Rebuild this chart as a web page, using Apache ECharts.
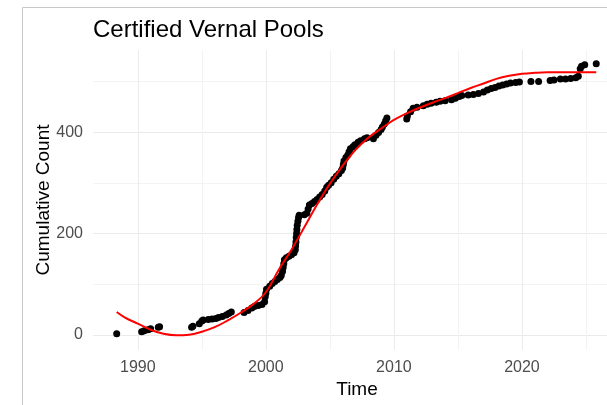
<!DOCTYPE html>
<html><head><meta charset="utf-8">
<script src="https://cdn.jsdelivr.net/npm/echarts@6/dist/echarts.min.js"></script>
<style>html,body{margin:0;padding:0;background:#fff}#c{width:607px;height:405px}</style>
</head><body><div id="c"></div>
<script>
const chartTitle = 'Certified Vernal Pools';
const xName = 'Time';
const yName = 'Cumulative Count';
const xLabelTicks = [1990, 2000, 2010, 2020];
const xGridTicks = [1990, 1995, 2000, 2005, 2010, 2015, 2020, 2025];
const yLabelTicks = [0, 200, 400];
const yGridTicks = [0, 100, 200, 300, 400, 500];

const pointYears = [
  1988.35, 1990.3, 1990.5, 1990.8, 1991.0, 1991.6, 1991.7, 1994.2, 1994.3, 1994.8,
  1995.0, 1995.1, 1995.5, 1995.8, 1996.1, 1996.3, 1996.6, 1996.9, 1997.1, 1997.3,
  1998.3, 1998.6, 1998.9, 1999.1, 1999.4, 1999.7, 1999.9, 1999.95, 2000.0, 2000.05,
  2000.3, 2000.5, 2000.7, 2000.9, 2001.1, 2001.2, 2001.3, 2001.35, 2001.4, 2001.45,
  2001.6, 2001.8, 2002.0, 2002.2, 2002.3, 2002.32, 2002.35, 2002.37, 2002.4, 2002.42,
  2002.45, 2002.5, 2002.55, 2002.6, 2003.0, 2003.2, 2003.3, 2003.4, 2003.6, 2003.8,
  2004.0, 2004.2, 2004.4, 2004.6, 2004.75, 2004.9, 2005.1, 2005.3, 2005.5, 2005.7,
  2005.9, 2006.0, 2006.05, 2006.1, 2006.25, 2006.4, 2006.5, 2006.6, 2006.8, 2006.95,
  2007.2, 2007.4, 2007.7, 2007.9, 2008.4, 2008.6, 2008.8, 2009.0, 2009.1, 2009.25,
  2009.35, 2009.45, 2011.0, 2011.05, 2011.3, 2011.5, 2011.8, 2012.3, 2012.6, 2012.9,
  2013.3, 2013.6, 2014.0, 2014.5, 2014.8, 2015.1, 2015.3, 2015.8, 2016.2, 2016.6,
  2017.0, 2017.3, 2017.6, 2017.9, 2018.2, 2018.5, 2018.8, 2019.1, 2019.5, 2019.8,
  2020.7, 2021.3, 2022.2, 2022.5, 2023.0, 2023.4, 2023.8, 2024.2, 2024.4, 2024.55,
  2024.65, 2024.9, 2025.8
];
const pointCounts = [
  2, 6, 8, 10, 12, 15, 16, 15, 17, 22,
  27, 29, 30, 31, 32, 34, 36, 39, 42, 45,
  44, 48, 53, 56, 58, 60, 65, 75, 82, 90,
  96, 101, 105, 109, 113, 117, 125, 133, 140, 148,
  152, 155, 158, 162, 168, 175, 183, 192, 200, 208,
  216, 224, 231, 236, 237, 240, 248, 256, 259, 263,
  267, 272, 277, 284, 291, 295, 300, 307, 313, 318,
  324, 329, 336, 343, 350, 355, 361, 367, 371, 375,
  380, 383, 387, 389, 387, 394, 399, 405, 410, 416,
  422, 428, 426, 432, 440, 447, 449, 452, 455, 457,
  459, 461, 462, 464, 467, 470, 472, 473, 474, 476,
  479, 483, 486, 488, 491, 493, 495, 497, 498, 499,
  500, 500, 502, 503, 505, 505, 506, 507, 510, 525,
  530, 533, 535
];

const smoothYears = [1988.35, 1989, 1990, 1991, 1992, 1993, 1994, 1995, 1996, 1997, 1998, 1999, 2000, 2001, 2002, 2003, 2004, 2005, 2006, 2007, 2008, 2009, 2010, 2011, 2012, 2013, 2014, 2015, 2016, 2017, 2018, 2019, 2020, 2021, 2022, 2023, 2024, 2025, 2025.8];
const smoothCounts = [45, 34, 22, 10, 2, -1, 0, 6, 15, 28, 43, 60, 84, 128, 168, 212, 257, 298, 334, 365, 389, 407, 424, 437, 448, 458, 467, 477, 487, 496, 505, 511, 515, 517, 518, 518, 518, 518, 518];

const FONT = "'Liberation Sans', Arial, sans-serif";
const chart = echarts.init(document.getElementById('c'), null, {renderer: 'canvas'});
chart.setOption({
  animation: false,
  backgroundColor: '#ffffff',
  title: {
    text: chartTitle, left: 93, top: 18, padding: 0,
    textStyle: {fontFamily: FONT, fontSize: 24, fontWeight: 'normal', color: '#000'}
  },
  grid: {left: 93, right: 0, top: 50, bottom: 55, containLabel: false},
  xAxis: {
    type: 'value', min: 1986.5, max: 2026.64,
    name: xName, nameLocation: 'middle', nameGap: 30, nameMoveOverlap: false,
    nameTextStyle: {fontFamily: FONT, fontSize: 19, color: '#000', padding: [0, 0, 0, 14]},
    axisLine: {show: false},
    axisTick: {show: false, customValues: xGridTicks},
    axisLabel: {customValues: xLabelTicks, margin: 10, fontFamily: FONT, fontSize: 16, color: '#4D4D4D',
      formatter: v => String(v)},
    splitLine: {show: true, lineStyle: {color: ['#EBEBEB', '#F3F3F3'], width: 1}}
  },
  yAxis: {
    type: 'value', min: -30, max: 562,
    name: yName, nameLocation: 'middle', nameGap: 40, nameRotate: 90, nameMoveOverlap: false,
    nameTextStyle: {fontFamily: FONT, fontSize: 19, color: '#000'},
    axisLine: {show: false},
    axisTick: {show: false, customValues: yGridTicks},
    axisLabel: {customValues: yLabelTicks, margin: 10, fontFamily: FONT, fontSize: 16, color: '#4D4D4D',
      formatter: v => String(v)},
    splitLine: {show: true, lineStyle: {color: ['#EBEBEB', '#F3F3F3'], width: 1}}
  },
  graphic: [
    {type: 'line', shape: {x1: 22.5, y1: 7.5, x2: 22.5, y2: 405}, style: {stroke: '#C8C8C8', lineWidth: 1}, z: 100},
    {type: 'line', shape: {x1: 22.5, y1: 7.5, x2: 607, y2: 7.5}, style: {stroke: '#C8C8C8', lineWidth: 1}, z: 100}
  ],
  series: [
    {
      type: 'scatter', symbolSize: 7, itemStyle: {color: '#000', opacity: 1},
      data: pointYears.map((y, i) => [y, pointCounts[i]]), z: 2
    },
    {
      type: 'line', smooth: 0.4, showSymbol: false, symbol: 'none',
      lineStyle: {color: '#FF0000', width: 2},
      data: smoothYears.map((y, i) => [y, smoothCounts[i]]), z: 3
    }
  ]
});
</script></body></html>
